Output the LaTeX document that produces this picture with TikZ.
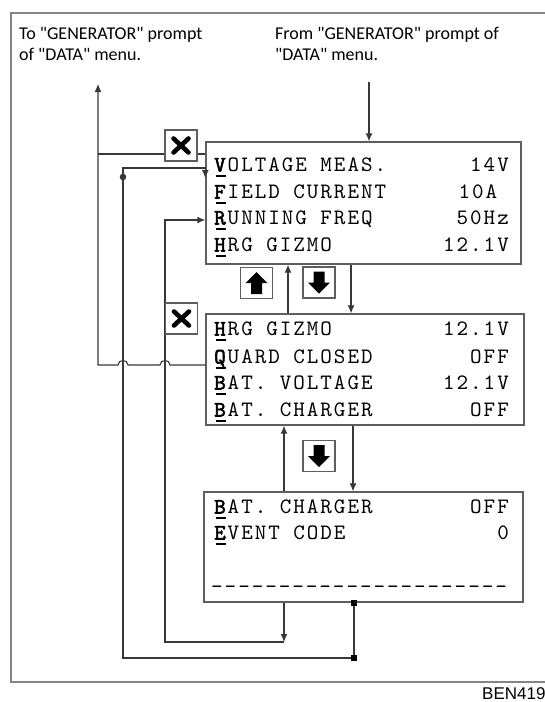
\documentclass[tikz,border=0pt]{standalone}
\usepackage{fontspec}
\newfontfamily\notefont{Carlito}[Ligatures=TeXOff]
\newfontfamily\menufont{lmmono10-regular}[Extension=.otf, LetterSpace=9,
  BoldFont=lmmono10-regular, BoldFeatures={FakeBold=2.5}]
\newfontfamily\tagfont{Liberation Sans}
\usetikzlibrary{arrows.meta}

\definecolor{framegray}{HTML}{858585}
\definecolor{wiregray}{HTML}{383838}
\definecolor{boxgray}{HTML}{5E5E5E}

% first letter of a menu row: bold and underlined
\newcommand{\hotkey}[1]{\makebox[0pt][l]{\hspace{1.5pt}\rule[-5pt]{10pt}{1.8pt}}\textbf{#1}}
% heavy cross of the escape key
\newcommand{\xglyph}[1]{\draw[line width=4.6pt, line cap=round]
  ([shift={(-7.5,-7)}]#1.center) -- ([shift={(7.5,7)}]#1.center)
  ([shift={(-7.5,7)}]#1.center) -- ([shift={(7.5,-7)}]#1.center);}
% block arrow of the up/down keys, #2 = 1 for up, -1 for down
\newcommand{\arrowglyph}[2]{\fill ([shift={(0,-11*#2)}]#1.center) -- ++(11,11*#2) -- ++(-5.5,0)
  -- ++(0,11*#2) -- ++(-11,0) -- ++(0,-11*#2) -- ++(-5.5,0) -- cycle;}

\tikzset{
  page/.style={draw=boxgray, line width=1.4pt, fill=white, inner sep=0pt},
  iconbox/.style={draw=boxgray, line width=1.2pt, fill=white, inner sep=0pt,
    minimum width=32pt, minimum height=31pt},
  wire/.style={draw=wiregray, line width=1.1pt},
  tip/.style={-{Latex[length=8pt,width=7pt]}},
  rowtext/.style={anchor=base west, inner sep=0pt, font=\menufont\fontsize{22}{26}\selectfont},
  rowval/.style={anchor=base east, inner sep=0pt, font=\menufont\fontsize{22}{26}\selectfont},
  note/.style={anchor=base west, inner sep=0pt, align=left, font=\notefont\fontsize{18}{21}\selectfont},
  jsq/.style={fill=black, inner sep=0pt, minimum size=6pt}
}

\begin{document}
\begin{tikzpicture}[x=1pt, y=-1pt]
  \useasboundingbox (0,0) rectangle (545,702);
  \draw[framegray, line width=2pt] (560,13) -- (11,13) -- (11,682) -- (560,682);

  % texts at the top
  \node[note] (tonote) at (19,60) {To "GENERATOR" prompt\\of "DATA" menu.};
  \node[note] (fromnote) at (275,60) {From "GENERATOR" prompt of\\"DATA" menu.};
  \coordinate (toGen) at (98,84);
  \coordinate (fromGen) at (369,82);

  % x positions of the vertical wires
  \coordinate (uAB) at (288,0);
  \coordinate (dAB) at (351,0);
  \coordinate (uBC) at (284,0);
  \coordinate (dBC) at (353,0);
  \coordinate (rtn) at (354,0);

  % the three menu pages
  \node[page, minimum width=315pt, minimum height=122pt] (pageA) at (363.5,203) {};
  \node[page, minimum width=318pt, minimum height=111pt] (pageB) at (365,369.5) {};
  \node[page, minimum width=319pt, minimum height=110pt] (pageC) at (363.5,547) {};

  \foreach \y/\lab/\val in {171.5/{\hotkey{V}OLTAGE MEAS.}/14V,
      198.5/{\hotkey{F}IELD CURRENT}/{10A\phantom{0}},
      224.5/{\hotkey{R}UNNING FREQ}/50Hz,
      251.5/{\hotkey{H}RG GIZMO}/12.1V,
      335.5/{\hotkey{H}RG GIZMO}/12.1V,
      363.5/{\hotkey{Q}UARD CLOSED}/OFF,
      389.5/{\hotkey{B}AT. VOLTAGE}/12.1V,
      416.5/{\hotkey{B}AT. CHARGER}/OFF,
      513.5/{\hotkey{B}AT. CHARGER}/OFF,
      539.5/{\hotkey{E}VENT CODE}/0} {
    \node[rowtext] at (214,\y) {\lab};
    \node[rowval] at (509,\y) {\val};
  }
  \node[rowtext] (dashes) at (211,593) {-{}-{}-{}-{}-{}-{}-{}-{}-{}-{}-{}-{}-{}-{}-{}-{}-{}-{}-{}-{}-{}-};

  % wires
  \draw[wire, tip] (fromGen) -- (fromGen |- pageA.north);
  \draw[wire] ([shift={(0,-49)}]pageA.west) -- (98,154);
  \draw[wire, tip] ([shift={(0,-4.5)}]pageB.west) -- (170,365)
    .. controls (170,359) and (160,359) .. (160,365) -- (128,365)
    .. controls (128,359) and (118,359) .. (118,365) -- (98,365) -- (toGen);
  \draw[wire, tip] (uAB |- pageB.north) -- (uAB |- pageA.south);
  \draw[wire, tip] (dAB |- pageA.south) -- (dAB |- pageB.north);
  \draw[wire, tip] (uBC |- pageC.north) -- (uBC |- pageB.south);
  \draw[wire, tip] (dBC |- pageB.south) -- (dBC |- pageC.north);
  \draw[wire, tip] (uBC |- pageC.south) -- (284,642);
  \draw[wire, tip] (284,642) -- (165,642) -- (165,220) -- ([shift={(0,17)}]pageA.west);
  \draw[wire, tip] (rtn |- pageC.south) -- (354,658) -- (123,658) -- (123,168)
    -- ([shift={(0,-35)}]pageA.west) -- ([shift={(0,-25)}]pageA.west);
  \fill[wiregray] (123,177) circle[radius=3.3pt];
  \node[jsq] (sqtop) at (rtn |- pageC.south) {};
  \node[jsq] (sqbot) at (354,658) {};

  % keys
  \node[iconbox] (escA) at (181,145.5) {};
  \node[iconbox] (escB) at (181.5,318.5) {};
  \node[iconbox] (upA) at (256.5,283) {};
  \node[iconbox] (dnA) at (319,282.5) {};
  \node[iconbox] (dnB) at (319,456) {};
  \xglyph{escA}
  \xglyph{escB}
  \arrowglyph{upA}{1}
  \arrowglyph{dnA}{-1}
  \arrowglyph{dnB}{-1}

  \node[anchor=base west, inner sep=0pt, font=\tagfont\fontsize{17}{20}\selectfont] (tag) at (482,699) {BEN419};
\end{tikzpicture}
\end{document}
